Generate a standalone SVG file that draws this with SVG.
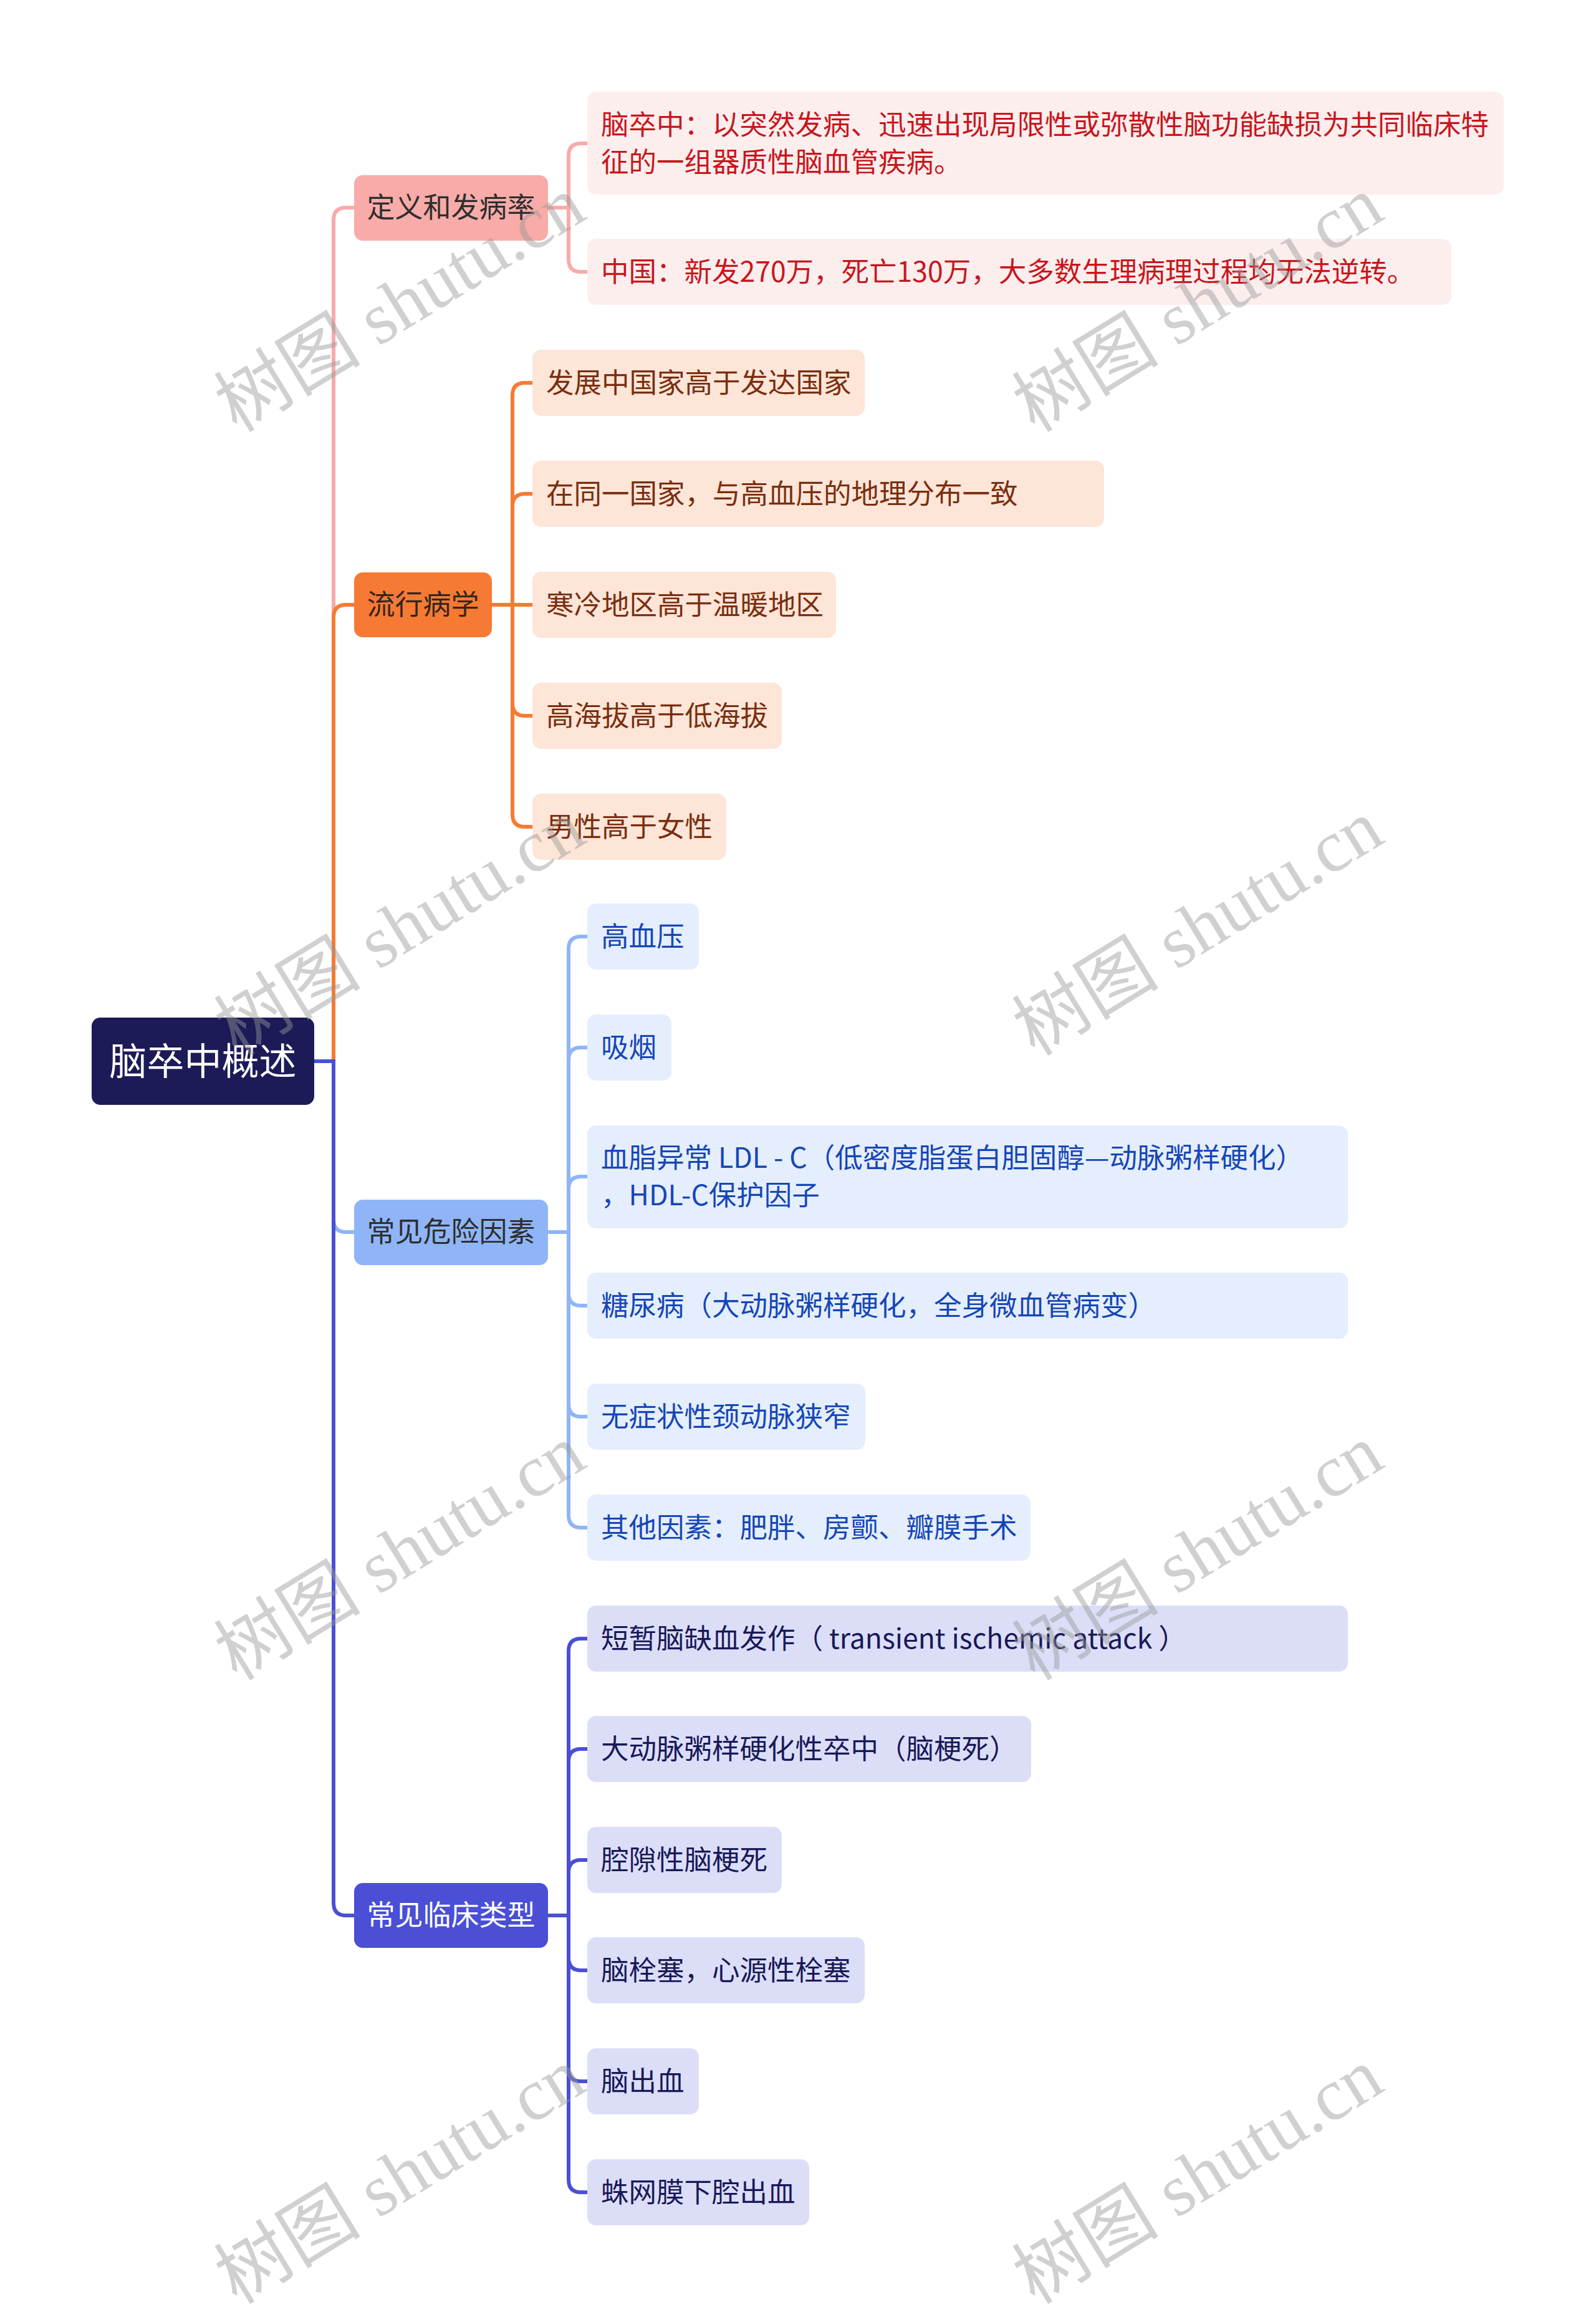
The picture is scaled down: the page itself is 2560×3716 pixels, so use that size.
<svg xmlns="http://www.w3.org/2000/svg" width="2560" height="3716" viewBox="0 0 2560 3716">
<style>
  text { font-family: "Noto Sans CJK SC", "Noto Sans", sans-serif; dominant-baseline: central; }
  .t2 { font-size: 44.5px; }
  .t1 { font-size: 45px; text-anchor: middle; }
  .t0 { font-size: 60px; text-anchor: middle; fill: #ffffff; }
  .c { fill: none; stroke-width: 6; }
  .cp { stroke: #f8aba8; }
  .co { stroke: #f67a33; }
  .cb { stroke: #8fb5f8; }
  .ci { stroke: #4a4fd5; }
  .np rect { fill: #f8aba8; } .np text { fill: #2e2e2e; }
  .no rect { fill: #f67a33; } .no text { fill: #33261d; }
  .nb rect { fill: #8fb5f8; } .nb text { fill: #2e2e2e; }
  .ni rect { fill: #4a4fd5; } .ni text { fill: #ffffff; }
  .kp rect { fill: #fdeeee; } .kp text { fill: #c8161d; }
  .ko rect { fill: #fde5d8; } .ko text { fill: #7a2e0e; }
  .kb rect { fill: #e5eefc; } .kb text { fill: #1546b8; }
  .ki rect { fill: #dcdef8; } .ki text { fill: #191958; }
  .wm { font-family: "Liberation Serif", "Noto Sans CJK SC", serif; font-size: 118px; fill: #999999; opacity: 0.45; dominant-baseline: alphabetic; }
</style>

<g id="connectors">
  <path class="c cp" d="M504 1702 H535 V353 Q535 333 555 333 H568"/>
  <path class="c co" d="M504 1702 H535 V990 Q535 970 555 970 H568"/>
  <path class="c cb" d="M504 1702 H535 V1956 Q535 1976 555 1976 H568"/>
  <path class="c ci" d="M504 1702 H535 V3052 Q535 3072 555 3072 H568"/>

  <path class="c cp" d="M879 333 H912 V250 Q912 230 932 230 H942"/>
  <path class="c cp" d="M879 333 H912 V416 Q912 436 932 436 H942"/>

  <path class="c co" d="M789 970 H822 V634 Q822 614 842 614 H854"/>
  <path class="c co" d="M789 970 H822 V812 Q822 792 842 792 H854"/>
  <path class="c co" d="M789 970 H854"/>
  <path class="c co" d="M789 970 H822 V1128 Q822 1148 842 1148 H854"/>
  <path class="c co" d="M789 970 H822 V1306 Q822 1326 842 1326 H854"/>

  <path class="c cb" d="M879 1976 H912 V1522 Q912 1502 932 1502 H942"/>
  <path class="c cb" d="M879 1976 H912 V1700 Q912 1680 932 1680 H942"/>
  <path class="c cb" d="M879 1976 H912 V1907 Q912 1887 932 1887 H942"/>
  <path class="c cb" d="M879 1976 H912 V2074 Q912 2094 932 2094 H942"/>
  <path class="c cb" d="M879 1976 H912 V2252 Q912 2272 932 2272 H942"/>
  <path class="c cb" d="M879 1976 H912 V2430 Q912 2450 932 2450 H942"/>

  <path class="c ci" d="M879 3072 H912 V2648 Q912 2628 932 2628 H942"/>
  <path class="c ci" d="M879 3072 H912 V2825 Q912 2805 932 2805 H942"/>
  <path class="c ci" d="M879 3072 H912 V3003 Q912 2983 932 2983 H942"/>
  <path class="c ci" d="M879 3072 H912 V3140 Q912 3160 932 3160 H942"/>
  <path class="c ci" d="M879 3072 H912 V3318 Q912 3338 932 3338 H942"/>
  <path class="c ci" d="M879 3072 H912 V3496 Q912 3516 932 3516 H942"/>
</g>

<g id="root">
  <rect x="147" y="1632" width="357" height="140" rx="14" fill="#1c1a57"/>
  <text class="t0" x="325.5" y="1697">脑卒中概述</text>
</g>

<g id="n-def" class="np">
  <rect x="568" y="281" width="311" height="105" rx="14"/>
  <text class="t1" x="723.5" y="329.5">定义和发病率</text>
</g>
<g id="n-epi" class="no">
  <rect x="568" y="918" width="221" height="104" rx="14"/>
  <text class="t1" x="678.5" y="966">流行病学</text>
</g>
<g id="n-risk" class="nb">
  <rect x="568" y="1924" width="311" height="105" rx="14"/>
  <text class="t1" x="723.5" y="1972.5">常见危险因素</text>
</g>
<g id="n-type" class="ni">
  <rect x="568" y="3020" width="311" height="104" rx="14"/>
  <text class="t1" x="723.5" y="3068">常见临床类型</text>
</g>

<g id="def-1" class="kp">
  <rect x="942" y="147" width="1470" height="165" rx="14"/>
  <text class="t2" x="964" y="196">脑卒中：以突然发病、迅速出现局限性或弥散性脑功能缺损为共同临床特</text>
  <text class="t2" x="964" y="256">征的一组器质性脑血管疾病。</text>
</g>
<g id="def-2" class="kp">
  <rect x="942" y="383" width="1386" height="106" rx="14"/>
  <text class="t2" x="964" y="432">中国：新发270万，死亡130万，大多数生理病理过程均无法逆转。</text>
</g>

<g id="epi-1" class="ko">
  <rect x="854" y="561" width="533" height="106" rx="14"/>
  <text class="t2" x="876" y="610">发展中国家高于发达国家</text>
</g>
<g id="epi-2" class="ko">
  <rect x="854" y="739" width="917" height="106" rx="14"/>
  <text class="t2" x="876" y="788">在同一国家，与高血压的地理分布一致</text>
</g>
<g id="epi-3" class="ko">
  <rect x="854" y="917" width="487" height="106" rx="14"/>
  <text class="t2" x="876" y="966">寒冷地区高于温暖地区</text>
</g>
<g id="epi-4" class="ko">
  <rect x="854" y="1095" width="400" height="106" rx="14"/>
  <text class="t2" x="876" y="1144">高海拔高于低海拔</text>
</g>
<g id="epi-5" class="ko">
  <rect x="854" y="1273" width="311" height="106" rx="14"/>
  <text class="t2" x="876" y="1322">男性高于女性</text>
</g>

<g id="risk-1" class="kb">
  <rect x="942" y="1449" width="179" height="106" rx="14"/>
  <text class="t2" x="964" y="1498">高血压</text>
</g>
<g id="risk-2" class="kb">
  <rect x="942" y="1627" width="135" height="106" rx="14"/>
  <text class="t2" x="964" y="1676">吸烟</text>
</g>
<g id="risk-3" class="kb">
  <rect x="942" y="1805" width="1220" height="165" rx="14"/>
  <text class="t2" x="964" y="1853">血脂异常 LDL - C（低密度脂蛋白胆固醇—动脉粥样硬化）</text>
  <text class="t2" x="964" y="1913">，HDL-C保护因子</text>
</g>
<g id="risk-4" class="kb">
  <rect x="942" y="2041" width="1220" height="106" rx="14"/>
  <text class="t2" x="964" y="2090">糖尿病（大动脉粥样硬化，全身微血管病变）</text>
</g>
<g id="risk-5" class="kb">
  <rect x="942" y="2219" width="446" height="106" rx="14"/>
  <text class="t2" x="964" y="2268">无症状性颈动脉狭窄</text>
</g>
<g id="risk-6" class="kb">
  <rect x="942" y="2397" width="711" height="106" rx="14"/>
  <text class="t2" x="964" y="2446">其他因素：肥胖、房颤、瓣膜手术</text>
</g>

<g id="type-1" class="ki">
  <rect x="942" y="2575" width="1220" height="106" rx="14"/>
  <text class="t2" x="964" y="2624">短暂脑缺血发作（ transient ischemic attack ）</text>
</g>
<g id="type-2" class="ki">
  <rect x="942" y="2752" width="712" height="106" rx="14"/>
  <text class="t2" x="964" y="2801">大动脉粥样硬化性卒中（脑梗死）</text>
</g>
<g id="type-3" class="ki">
  <rect x="942" y="2930" width="312" height="106" rx="14"/>
  <text class="t2" x="964" y="2979">腔隙性脑梗死</text>
</g>
<g id="type-4" class="ki">
  <rect x="942" y="3107" width="445" height="106" rx="14"/>
  <text class="t2" x="964" y="3156">脑栓塞，心源性栓塞</text>
</g>
<g id="type-5" class="ki">
  <rect x="942" y="3285" width="179" height="106" rx="14"/>
  <text class="t2" x="964" y="3334">脑出血</text>
</g>
<g id="type-6" class="ki">
  <rect x="942" y="3463" width="356" height="106" rx="14"/>
  <text class="t2" x="964" y="3512">蛛网膜下腔出血</text>
</g>

<g id="watermarks">
  <text class="wm" transform="translate(380 695) rotate(-31.5)">树图 shutu.cn</text>
  <text class="wm" transform="translate(1660 695) rotate(-31.5)">树图 shutu.cn</text>
  <text class="wm" transform="translate(380 1695) rotate(-31.5)">树图 shutu.cn</text>
  <text class="wm" transform="translate(1660 1695) rotate(-31.5)">树图 shutu.cn</text>
  <text class="wm" transform="translate(380 2697) rotate(-31.5)">树图 shutu.cn</text>
  <text class="wm" transform="translate(1660 2697) rotate(-31.5)">树图 shutu.cn</text>
  <text class="wm" transform="translate(380 3697) rotate(-31.5)">树图 shutu.cn</text>
  <text class="wm" transform="translate(1660 3697) rotate(-31.5)">树图 shutu.cn</text>
</g>
</svg>
